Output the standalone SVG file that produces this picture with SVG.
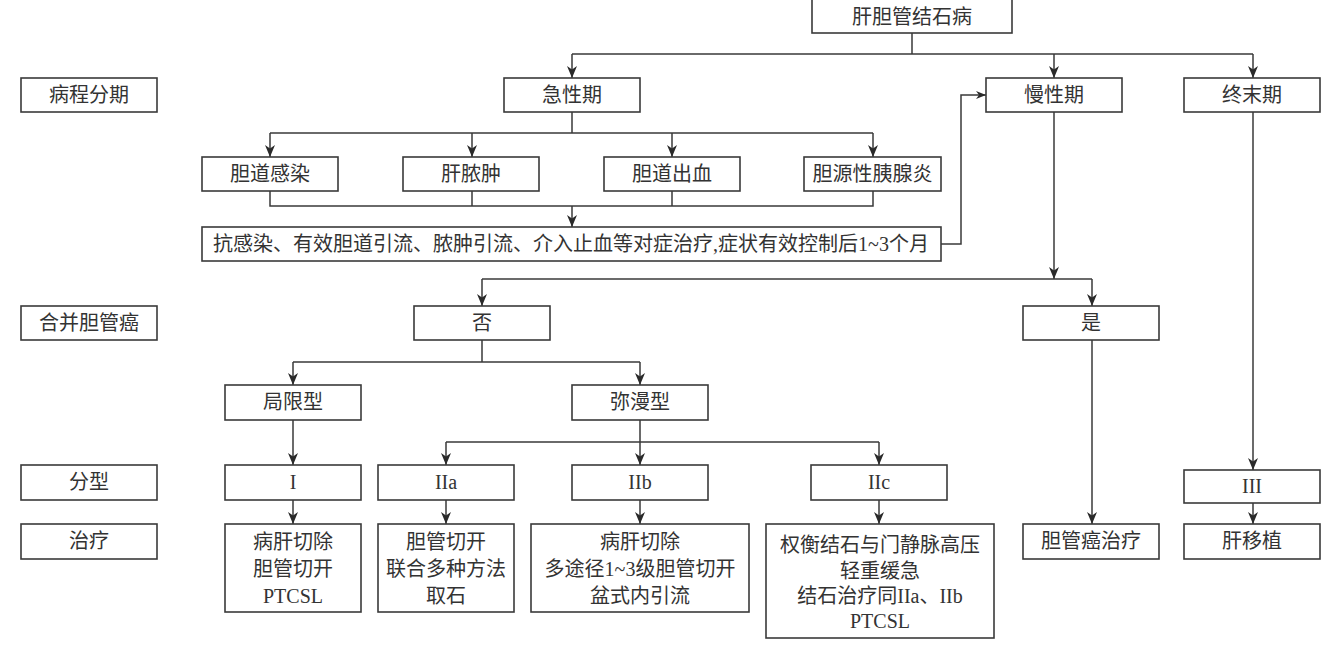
<svg xmlns="http://www.w3.org/2000/svg" width="1333" height="653" viewBox="0 0 1333 653">
<style>
.b{fill:#fff;stroke:#3a3a3a;stroke-width:1.6}
.t{font-family:"Liberation Serif","Noto Sans CJK SC",serif;font-size:20px;fill:#333;text-anchor:middle}
.c{fill:none;stroke:#3a3a3a;stroke-width:1.5}
.a{fill:none;stroke:#3a3a3a;stroke-width:1.5;marker-end:url(#ah)}
.as{fill:none;stroke:#3a3a3a;stroke-width:1.5;marker-end:url(#ahs)}
</style>
<defs>
<marker id="ah" markerUnits="userSpaceOnUse" markerWidth="12" markerHeight="10" refX="12" refY="5" orient="auto"><path d="M0,0 L12,5 L0,10 L3.5,5 z" fill="#2a2a2a"/></marker>
<marker id="ahs" markerUnits="userSpaceOnUse" markerWidth="10" markerHeight="8" refX="10" refY="4" orient="auto"><path d="M0,0 L10,4 L0,8 L3,4 z" fill="#2a2a2a"/></marker>
</defs>
<rect width="1333" height="653" fill="#fff"/>
<g id="connectors">
<path class="c" d="M912,33 V54 M572,54 H1253"/>
<path class="a" d="M572,54 V78"/>
<path class="a" d="M1054,54 V78"/>
<path class="a" d="M1253,54 V78"/>
<path class="c" d="M572,112 V133 M270,133 H873"/>
<path class="a" d="M270,133 V157"/>
<path class="a" d="M472,133 V157"/>
<path class="a" d="M672,133 V157"/>
<path class="a" d="M873,133 V157"/>
<path class="c" d="M270,191 V206 H873 V191 M472,191 V206 M672,191 V206"/>
<path class="a" d="M572,206 V227"/>
<path class="as" d="M941,244 H961 V95 H986"/>
<path class="a" d="M1054,112 V279"/>
<path class="c" d="M482,279 H1092"/>
<path class="a" d="M482,279 V306"/>
<path class="a" d="M1092,279 V306"/>
<path class="c" d="M482,340 V362 M293,362 H640"/>
<path class="a" d="M293,362 V385"/>
<path class="a" d="M640,362 V385"/>
<path class="a" d="M293,420 V465"/>
<path class="c" d="M640,420 V442 M446,442 H879"/>
<path class="a" d="M446,442 V465"/>
<path class="a" d="M640,442 V465"/>
<path class="a" d="M879,442 V465"/>
<path class="a" d="M293,500 V524"/>
<path class="a" d="M446,500 V524"/>
<path class="a" d="M640,500 V524"/>
<path class="a" d="M879,500 V524"/>
<path class="a" d="M1092,340 V524"/>
<path class="a" d="M1253,112 V470"/>
<path class="a" d="M1253,503 V524"/>
</g>
<g id="root"><rect class="b" x="812" y="-1" width="200" height="34"/><text class="t" x="912" y="24">肝胆管结石病</text></g>
<g id="lbl-stage"><rect class="b" x="21" y="78" width="136" height="34"/><text class="t" x="89" y="102">病程分期</text></g>
<g id="acute"><rect class="b" x="504" y="78" width="136" height="34"/><text class="t" x="572" y="102">急性期</text></g>
<g id="chronic"><rect class="b" x="986" y="78" width="136" height="34"/><text class="t" x="1054" y="102">慢性期</text></g>
<g id="terminal"><rect class="b" x="1184" y="78" width="136" height="34"/><text class="t" x="1252" y="102">终末期</text></g>
<g id="infection"><rect class="b" x="202" y="157" width="136" height="34"/><text class="t" x="270" y="181">胆道感染</text></g>
<g id="abscess"><rect class="b" x="403" y="157" width="136" height="34"/><text class="t" x="471" y="181">肝脓肿</text></g>
<g id="bleeding"><rect class="b" x="604" y="157" width="136" height="34"/><text class="t" x="672" y="181">胆道出血</text></g>
<g id="pancreatitis"><rect class="b" x="804" y="157" width="137" height="34"/><text class="t" x="872.5" y="181">胆源性胰腺炎</text></g>
<g id="treat-acute"><rect class="b" x="202" y="227" width="739" height="34"/><text class="t" x="571" y="251">抗感染、有效胆道引流、脓肿引流、介入止血等对症治疗,症状有效控制后1~3个月</text></g>
<g id="lbl-cancer"><rect class="b" x="21" y="306" width="136" height="34"/><text class="t" x="89" y="330">合并胆管癌</text></g>
<g id="no"><rect class="b" x="414" y="306" width="136" height="34"/><text class="t" x="482" y="330">否</text></g>
<g id="yes"><rect class="b" x="1023" y="306" width="136" height="34"/><text class="t" x="1091" y="330">是</text></g>
<g id="localized"><rect class="b" x="225" y="385" width="136" height="35"/><text class="t" x="293" y="409">局限型</text></g>
<g id="diffuse"><rect class="b" x="572" y="385" width="136" height="35"/><text class="t" x="640" y="409">弥漫型</text></g>
<g id="lbl-type"><rect class="b" x="21" y="465" width="136" height="35"/><text class="t" x="89" y="489">分型</text></g>
<g id="type-I"><rect class="b" x="225" y="465" width="136" height="35"/><text class="t" x="293" y="489">I</text></g>
<g id="type-IIa"><rect class="b" x="378" y="465" width="136" height="35"/><text class="t" x="446" y="489">IIa</text></g>
<g id="type-IIb"><rect class="b" x="572" y="465" width="136" height="35"/><text class="t" x="640" y="489">IIb</text></g>
<g id="type-IIc"><rect class="b" x="811" y="465" width="136" height="35"/><text class="t" x="879" y="489">IIc</text></g>
<g id="type-III"><rect class="b" x="1184" y="470" width="136" height="33"/><text class="t" x="1252" y="493">III</text></g>
<g id="lbl-treat"><rect class="b" x="21" y="524" width="136" height="35"/><text class="t" x="89" y="548">治疗</text></g>
<g id="tx-I"><rect class="b" x="225" y="524" width="136" height="88"/><text class="t" x="293" y="549">病肝切除</text><text class="t" x="293" y="576">胆管切开</text><text class="t" x="293" y="603">PTCSL</text></g>
<g id="tx-IIa"><rect class="b" x="378" y="524" width="136" height="88"/><text class="t" x="446" y="549">胆管切开</text><text class="t" x="446" y="576">联合多种方法</text><text class="t" x="446" y="603">取石</text></g>
<g id="tx-IIb"><rect class="b" x="531" y="524" width="218" height="88"/><text class="t" x="640" y="549">病肝切除</text><text class="t" x="640" y="576">多途径1~3级胆管切开</text><text class="t" x="640" y="603">盆式内引流</text></g>
<g id="tx-IIc"><rect class="b" x="766" y="524" width="228" height="114"/><text class="t" x="880" y="552">权衡结石与门静脉高压</text><text class="t" x="880" y="578">轻重缓急</text><text class="t" x="880" y="603">结石治疗同IIa、IIb</text><text class="t" x="880" y="628">PTCSL</text></g>
<g id="tx-cancer"><rect class="b" x="1023" y="524" width="136" height="35"/><text class="t" x="1091" y="548">胆管癌治疗</text></g>
<g id="tx-III"><rect class="b" x="1184" y="524" width="136" height="35"/><text class="t" x="1252" y="548">肝移植</text></g>
</svg>
